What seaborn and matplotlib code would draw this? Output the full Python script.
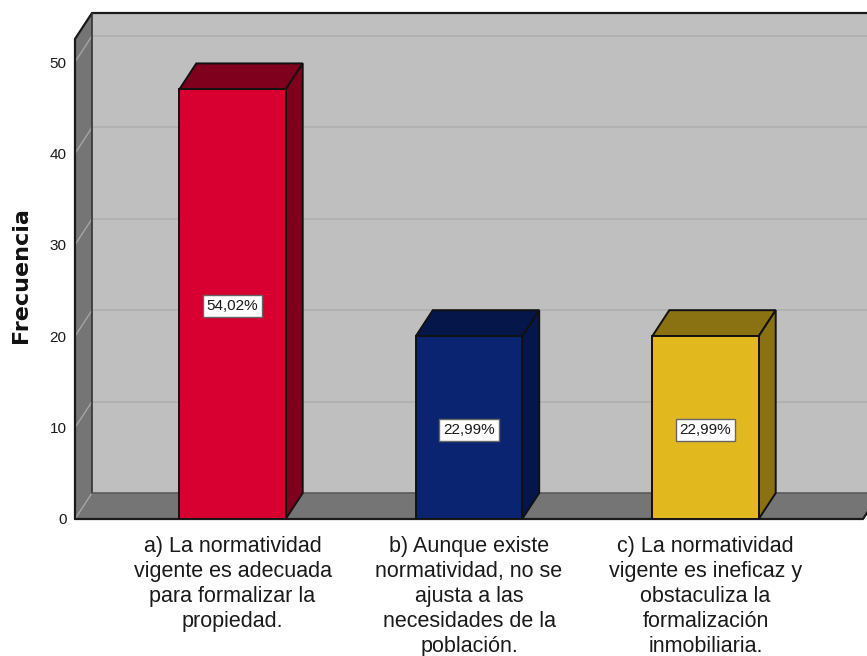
import matplotlib
matplotlib.use("Agg")
import matplotlib.pyplot as plt
import pandas as pd
import seaborn as sns
from matplotlib.patches import Polygon

categorias = [
    "a) La normatividad\nvigente es adecuada\npara formalizar la\npropiedad.",
    "b) Aunque existe\nnormatividad, no se\najusta a las\nnecesidades de la\npoblación.",
    "c) La normatividad\nvigente es ineficaz y\nobstaculiza la\nformalización\ninmobiliaria.",
]
frecuencias = [47, 20, 20]
porcentajes = ["54,02%", "22,99%", "22,99%"]
colores = ["#D70030", "#0A2472", "#E1B91E"]
colores_osc = ["#7F001C", "#04164A", "#8A7212"]
ticks = [0, 10, 20, 30, 40, 50]

W, H = 867, 656
sns.set_style("white")
plt.rcParams["font.family"] = ["Liberation Sans", "DejaVu Sans"]

fig = plt.figure(figsize=(W / 100, H / 100), dpi=100)
# plano frontal en pixeles: x 75-863, y 519 abajo
ax = fig.add_axes([75 / W, 1 - 519 / H, 788 / W, 480 / H])
ax.patch.set_visible(False)

df = pd.DataFrame({"cat": categorias, "frec": frecuencias})
ancho = 0.45
sns.barplot(data=df, x="cat", y="frec", hue="cat", palette=colores, legend=False,
            width=ancho, edgecolor="#111111", linewidth=1.4, saturation=1, ax=ax, zorder=5)

ax.set_xlim(-0.666, 2.666)
ax.set_ylim(0, 480 / 9.14)

# profundidad 3D en unidades de datos
dx = 17 / 236.5
dy = 26 / 9.14
x0, x1 = ax.get_xlim()
y1 = ax.get_ylim()[1]

gris_pared = "#BFBFBF"
gris_osc = "#757575"
linea = "#1A1A1A"

ax.add_patch(Polygon([(x0 + dx, dy), (x1 + dx, dy), (x1 + dx, y1 + dy), (x0 + dx, y1 + dy)],
                     fc=gris_pared, ec="none", clip_on=False, zorder=0))
ax.add_patch(Polygon([(x0, 0), (x0 + dx, dy), (x0 + dx, y1 + dy), (x0, y1)],
                     fc=gris_osc, ec="none", clip_on=False, zorder=0.5))
ax.add_patch(Polygon([(x0, 0), (x1, 0), (x1 + dx, dy), (x0 + dx, dy)],
                     fc=gris_osc, ec="none", clip_on=False, zorder=0.5))

for t in ticks[1:]:
    ax.plot([x0 + dx, x1 + dx], [t + dy, t + dy], color="#B0B0B0", lw=1.3, clip_on=False, zorder=1)
for t in ticks:
    ax.plot([x0, x0 + dx], [t, t + dy], color="#A5A5A5", lw=1, clip_on=False, zorder=1)

# bordes de la caja
ax.plot([x0, x0, x0 + dx, x1 + dx], [0, y1, y1 + dy, y1 + dy], color=linea, lw=1.6, clip_on=False, zorder=2)
ax.plot([x0 + dx, x0 + dx], [dy, y1 + dy], color="#333333", lw=1.2, clip_on=False, zorder=2)
ax.plot([x0, x1, x1 + dx], [0, 0, dy], color=linea, lw=1.6, clip_on=False, zorder=2)
ax.plot([x0 + dx, x1 + dx], [dy, dy], color="#5A5A5A", lw=1.2, clip_on=False, zorder=2)

# caras superior y lateral de cada barra
for i, v in enumerate(frecuencias):
    izq, der = i - ancho / 2, i + ancho / 2
    ax.add_patch(Polygon([(izq, v), (der, v), (der + dx, v + dy), (izq + dx, v + dy)],
                         fc=colores_osc[i], ec="#111111", lw=1.4, clip_on=False, zorder=4))
    ax.add_patch(Polygon([(der, 0), (der + dx, dy), (der + dx, v + dy), (der, v)],
                         fc=colores_osc[i], ec="#111111", lw=1.4, clip_on=False, zorder=4))
    ax.annotate(porcentajes[i], (i, v / 2), xytext=(0, -1.5), textcoords="offset points",
                ha="center", va="center", fontsize=11, color="#1A1A1A", zorder=6,
                bbox=dict(boxstyle="square,pad=0.25", fc="white", ec="#666666", lw=1))

sns.despine(ax=ax, left=True, bottom=True, top=True, right=True)
ax.set_yticks(ticks)
ax.set_yticklabels([str(t) for t in ticks], fontsize=11, color="#1A1A1A")
ax.tick_params(axis="y", length=0, pad=6)
ax.tick_params(axis="x", length=0, pad=12)
ax.set_xticks(range(len(categorias)))
ax.set_xticklabels(categorias, fontsize=15.5, color="#1A1A1A", linespacing=1.26)
ax.set_xlabel("")
ax.set_ylabel("Frecuencia", fontsize=16, fontweight="bold", color="#111111", family="DejaVu Sans")
ax.yaxis.set_label_coords((31 - 75) / 788, (519 - 275) / 480)

fig.savefig("out.png", dpi=100)
